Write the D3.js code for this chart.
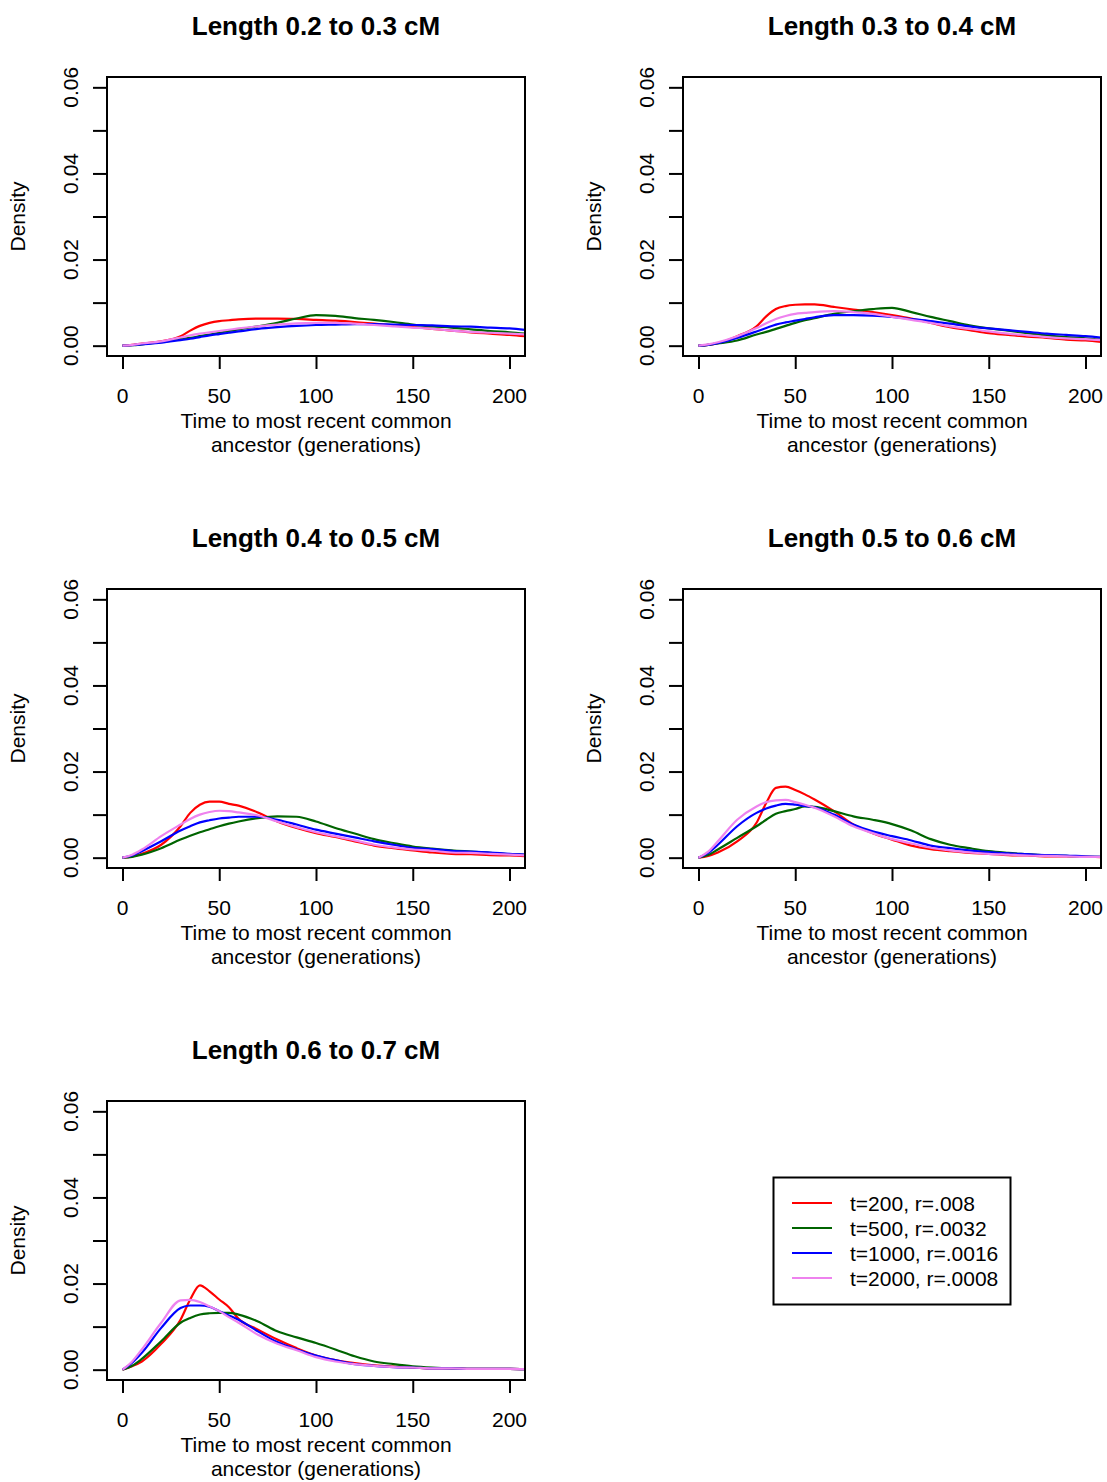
<!DOCTYPE html>
<html>
<head>
<meta charset="utf-8">
<script src="https://cdn.jsdelivr.net/npm/d3@7"></script>
<style>
  html, body { margin: 0; padding: 0; background: #fff; }
  svg { display: block; }
  text { font-family: "Liberation Sans", Arial, Helvetica, sans-serif; fill: #000; }
</style>
</head>
<body>
<svg id="chart" width="1107" height="1482"></svg>
<script>
// Panel titles (one per segment-length bin)
const panelTitles = [
  "Length 0.2 to 0.3 cM",
  "Length 0.3 to 0.4 cM",
  "Length 0.4 to 0.5 cM",
  "Length 0.5 to 0.6 cM",
  "Length 0.6 to 0.7 cM"
];

// Series labels and colours
const seriesLabels = ["t=200, r=.008", "t=500, r=.0032", "t=1000, r=.0016", "t=2000, r=.0008"];
const seriesColors = ["#ff0000", "#006400", "#0000ff", "#ee82ee"];

// Evaluation grid for the density estimates (generations)
const tGrid = [0, 5, 10, 20, 30, 35, 40, 45, 50, 55, 60, 70, 80, 90, 100, 110, 120, 130, 140, 150, 160, 170, 180, 190, 200, 210];

// Density values, one row per panel
const densT200 = [
  [0,0.0002,0.0005,0.001,0.0022,0.0035,0.0046,0.0053,0.0057,0.0059,0.0061,0.0063,0.0063,0.0062,0.006,0.0058,0.0055,0.0051,0.0047,0.0043,0.0039,0.0035,0.0031,0.0028,0.0025,0.0021],
  [0,0.0002,0.0006,0.0022,0.0045,0.0068,0.0085,0.0092,0.0095,0.0096,0.0096,0.009,0.0084,0.0078,0.0071,0.0063,0.0053,0.0043,0.0036,0.0029,0.0025,0.0021,0.0018,0.0014,0.0012,0.0008],
  [0,0.0003,0.0009,0.003,0.0073,0.0104,0.0123,0.013,0.013,0.0125,0.0121,0.0105,0.0084,0.0069,0.0057,0.0048,0.0038,0.0028,0.0022,0.0017,0.0012,0.0009,0.0008,0.0006,0.0005,0.0003],
  [0,0.0004,0.0012,0.0038,0.0081,0.0127,0.0162,0.0165,0.0157,0.0147,0.0135,0.0108,0.0077,0.0057,0.0042,0.0028,0.002,0.0015,0.0011,0.0009,0.0006,0.0005,0.0003,0.0003,0.0002,0.0001],
  [0,0.0008,0.0019,0.006,0.0116,0.0163,0.0196,0.0182,0.0163,0.0145,0.0118,0.0093,0.007,0.005,0.0033,0.0022,0.0015,0.001,0.0007,0.0005,0.0003,0.0003,0.0002,0.0002,0.0002,0.0001]
];
const densT500 = [
  [0,0.0001,0.0003,0.0008,0.0015,0.0018,0.0022,0.0026,0.003,0.0034,0.0038,0.0045,0.0053,0.0063,0.0071,0.0069,0.0064,0.006,0.0055,0.0049,0.0045,0.0042,0.0038,0.0034,0.0031,0.0027],
  [0,0.0002,0.0005,0.0012,0.0026,0.0032,0.0039,0.0046,0.0053,0.0059,0.0064,0.0074,0.008,0.0085,0.0088,0.0078,0.0067,0.0057,0.0047,0.004,0.0035,0.0029,0.0024,0.002,0.0017,0.0013],
  [0,0.0002,0.0007,0.0022,0.0042,0.0051,0.0059,0.0066,0.0073,0.0079,0.0084,0.0092,0.0096,0.0095,0.0084,0.0069,0.0056,0.0043,0.0034,0.0026,0.0021,0.0017,0.0014,0.0011,0.0008,0.0006],
  [0,0.0006,0.0019,0.0046,0.0073,0.0088,0.0102,0.0108,0.0113,0.0119,0.0118,0.0108,0.0096,0.0088,0.0078,0.0063,0.0043,0.003,0.0022,0.0015,0.0011,0.0008,0.0005,0.0004,0.0002,0.0002],
  [0,0.0009,0.0025,0.0066,0.0109,0.012,0.0128,0.0131,0.0132,0.0132,0.0128,0.0112,0.0089,0.0075,0.0062,0.0047,0.0031,0.0019,0.0013,0.0008,0.0005,0.0003,0.0002,0.0002,0.0002,0.0001]
];
const densT1000 = [
  [0,0.0001,0.0003,0.0007,0.0013,0.0016,0.002,0.0024,0.0027,0.003,0.0033,0.0039,0.0043,0.0046,0.0048,0.0049,0.005,0.005,0.0049,0.0048,0.0047,0.0045,0.0044,0.0042,0.004,0.0036],
  [0,0.0002,0.0006,0.0018,0.0033,0.0041,0.0049,0.0054,0.0058,0.0062,0.0066,0.0071,0.0071,0.007,0.0067,0.0062,0.0057,0.0051,0.0045,0.004,0.0036,0.0032,0.0028,0.0025,0.0022,0.0018],
  [0,0.0005,0.0015,0.0038,0.0063,0.0073,0.0082,0.0087,0.0091,0.0093,0.0095,0.0095,0.0088,0.0077,0.0065,0.0056,0.0047,0.0038,0.003,0.0023,0.002,0.0016,0.0014,0.0012,0.0009,0.0007],
  [0,0.0011,0.003,0.0073,0.0104,0.0114,0.0121,0.0125,0.0123,0.012,0.0117,0.01,0.0077,0.0061,0.005,0.004,0.0028,0.0022,0.0017,0.0013,0.001,0.0008,0.0006,0.0005,0.0003,0.0002],
  [0,0.0016,0.0039,0.0097,0.0143,0.0149,0.0149,0.0146,0.0136,0.0126,0.0116,0.0089,0.0064,0.0047,0.0033,0.0022,0.0013,0.0009,0.0006,0.0005,0.0003,0.0003,0.0002,0.0002,0.0002,0.0001]
];
const densT2000 = [
  [0,0.0002,0.0005,0.001,0.0019,0.0024,0.0028,0.0031,0.0034,0.0037,0.004,0.0045,0.0049,0.0052,0.0053,0.0053,0.0051,0.0048,0.0045,0.0042,0.0039,0.0035,0.0032,0.003,0.0028,0.0026],
  [0,0.0003,0.0008,0.0022,0.0041,0.0052,0.0062,0.0069,0.0074,0.0076,0.0078,0.008,0.0078,0.0074,0.0067,0.006,0.0053,0.0045,0.0039,0.0033,0.0028,0.0024,0.002,0.0017,0.0015,0.0012],
  [0,0.0007,0.0019,0.005,0.0077,0.009,0.01,0.0106,0.0109,0.0108,0.0105,0.0098,0.0084,0.0071,0.0059,0.005,0.004,0.003,0.0024,0.0019,0.0016,0.0012,0.0011,0.0009,0.0007,0.0005],
  [0,0.0014,0.0038,0.0088,0.0119,0.0129,0.0133,0.0134,0.0129,0.0123,0.0116,0.0096,0.0073,0.0057,0.0043,0.0033,0.0023,0.0017,0.0012,0.0009,0.0007,0.0005,0.0004,0.0003,0.0002,0.0002],
  [0,0.0019,0.0047,0.0109,0.0161,0.0162,0.0157,0.0147,0.0136,0.0122,0.0109,0.0081,0.006,0.0045,0.0029,0.0019,0.0013,0.0009,0.0006,0.0005,0.0003,0.0003,0.0002,0.0002,0.0002,0.0001]
];

// Axis ticks
const xTicks = [0, 50, 100, 150, 200];
const yTicks = [0, 0.01, 0.02, 0.03, 0.04, 0.05, 0.06];
const yLabelled = [0, 0.02, 0.04, 0.06];

const allSeries = [densT200, densT500, densT1000, densT2000];

const svg = d3.select("#chart");

// Plot region inside each panel cell
const box = { left: 107, right: 525, top: 77, bottom: 356 };
const colStep = 576, rowStep = 512;
const baseFont = 21;

const x = d3.scaleLinear().domain([-8, 208]).range([box.left, box.right]);
const y = d3.scaleLinear().domain([-0.0024, 0.0624]).range([box.bottom, box.top]);

const line = d3.line()
  .x(d => x(d[0]))
  .y(d => y(d[1]))
  .curve(d3.curveMonotoneX);

svg.append("defs").append("clipPath").attr("id", "plotClip")
  .append("rect")
  .attr("x", box.left).attr("y", box.top)
  .attr("width", box.right - box.left).attr("height", box.bottom - box.top);

panelTitles.forEach((title, i) => {
  const col = i % 2, row = Math.floor(i / 2);
  const g = svg.append("g").attr("transform", `translate(${col * colStep},${row * rowStep})`);
  const cx = (box.left + box.right) / 2;

  // Title
  g.append("text")
    .attr("x", cx).attr("y", 35)
    .attr("text-anchor", "middle")
    .style("font-size", "26px").style("font-weight", "bold")
    .text(title);

  // Curves
  const curves = g.append("g").attr("clip-path", "url(#plotClip)");
  allSeries.forEach((s, k) => {
    const pts = tGrid.map((t, j) => [t, s[i][j]]);
    curves.append("path")
      .attr("d", line(pts))
      .attr("fill", "none")
      .attr("stroke", seriesColors[k])
      .attr("stroke-width", 2.2)
      .attr("stroke-linejoin", "round");
  });

  // Frame
  g.append("rect")
    .attr("x", box.left).attr("y", box.top)
    .attr("width", box.right - box.left).attr("height", box.bottom - box.top)
    .attr("fill", "none").attr("stroke", "#000").attr("stroke-width", 2);

  // X axis ticks
  const xAxis = d3.axisBottom(x).tickValues(xTicks).tickSize(13).tickSizeOuter(0).tickFormat("");
  const xa = g.append("g").attr("transform", `translate(0,${box.bottom})`).call(xAxis);
  xa.select(".domain").remove();
  xa.selectAll(".tick line").attr("stroke", "#000").attr("stroke-width", 2);
  g.selectAll(null).data(xTicks).enter().append("text")
    .attr("x", d => x(d)).attr("y", 403)
    .attr("text-anchor", "middle")
    .style("font-size", baseFont + "px")
    .text(d => d);

  // Y axis ticks
  const yAxis = d3.axisLeft(y).tickValues(yTicks).tickSize(14).tickSizeOuter(0).tickFormat("");
  const ya = g.append("g").attr("transform", `translate(${box.left},0)`).call(yAxis);
  ya.select(".domain").remove();
  ya.selectAll(".tick line").attr("stroke", "#000").attr("stroke-width", 2);
  g.selectAll(null).data(yLabelled).enter().append("text")
    .attr("transform", d => `translate(78,${y(d)}) rotate(-90)`)
    .attr("text-anchor", "middle")
    .style("font-size", baseFont + "px")
    .text(d => d3.format(".2f")(d));

  // Axis titles
  g.append("text")
    .attr("x", cx).attr("y", 427.5)
    .attr("text-anchor", "middle").style("font-size", baseFont + "px")
    .text("Time to most recent common");
  g.append("text")
    .attr("x", cx).attr("y", 452)
    .attr("text-anchor", "middle").style("font-size", baseFont + "px")
    .text("ancestor (generations)");
  g.append("text")
    .attr("transform", `translate(25,${(box.top + box.bottom) / 2}) rotate(-90)`)
    .attr("text-anchor", "middle").style("font-size", baseFont + "px")
    .text("Density");
});

// Legend in the empty sixth cell
const legend = svg.append("g");
legend.append("rect")
  .attr("x", 773.5).attr("y", 1177.5).attr("width", 237).attr("height", 127)
  .attr("fill", "#fff").attr("stroke", "#000").attr("stroke-width", 2);
seriesLabels.forEach((lab, k) => {
  const ly = 1203 + k * 25;
  legend.append("line")
    .attr("x1", 792).attr("x2", 832).attr("y1", ly).attr("y2", ly)
    .attr("stroke", seriesColors[k]).attr("stroke-width", 2.2);
  legend.append("text")
    .attr("x", 850).attr("y", ly + 7.5)
    .style("font-size", baseFont + "px")
    .text(lab);
});
</script>
</body>
</html>
